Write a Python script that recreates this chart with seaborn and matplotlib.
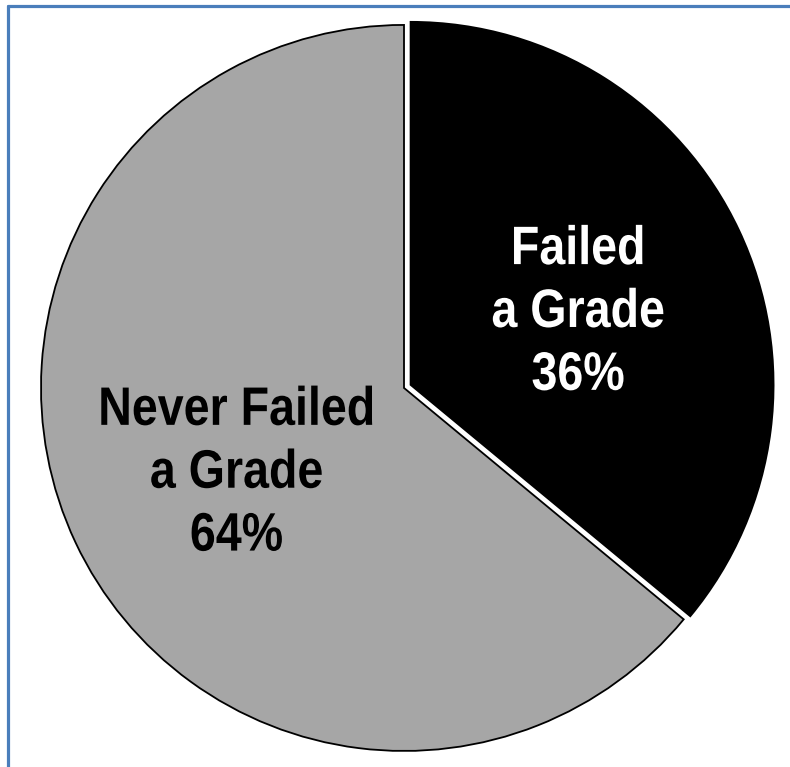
import matplotlib
matplotlib.use("Agg")
import matplotlib.pyplot as plt
import seaborn as sns
from matplotlib.lines import Line2D
from matplotlib.patheffects import AbstractPathEffect
from matplotlib.transforms import Affine2D, ScaledTranslation

categories = ["Failed\na Grade", "Never Failed\na Grade"]
values = [36, 64]
percent_labels = ["36%", "64%"]
colors = ["#000000", "#a6a6a6"]
label_colors = ["white", "black"]

sns.set_theme(style="white")
plt.rcParams['font.family'] = ['Liberation Sans', 'DejaVu Sans']


class Condense(AbstractPathEffect):
    """Narrow the glyphs horizontally around the text's anchor x."""
    def __init__(self, text, sx=0.85):
        super().__init__()
        self.text = text
        self.sx = sx

    def draw_path(self, renderer, gc, tpath, affine, rgbFace=None):
        cx = self.text.get_transform().transform(self.text.get_position())[0]
        aff = affine + Affine2D().translate(-cx, 0).scale(self.sx, 1).translate(cx, 0)
        renderer.draw_path(gc, tpath, aff, rgbFace)


fig = plt.figure(figsize=(7.9, 7.67), dpi=100)
fig.patch.set_facecolor("white")
ax = fig.add_axes([0.0519, 0.0209, 0.919, 0.9466])

labels = [f"{c}\n{p}" for c, p in zip(categories, percent_labels)]
wedges, texts = ax.pie(values, labels=labels, colors=colors, startangle=90,
                       counterclock=False, explode=[0.02, 0],
                       labeldistance=0.51, frame=False,
                       wedgeprops=dict(edgecolor="black", linewidth=1.3),
                       textprops=dict(fontsize=39, fontweight="bold"))
for t, c in zip(texts, label_colors):
    t.set_ha("center")
    t.set_va("center")
    t.set_color(c)
    t.set_linespacing(1.33)
    t.set_transform(ax.transData + ScaledTranslation(0, -5 / 72, fig.dpi_scale_trans))
    t.set_path_effects([Condense(t, 0.86)])
ax.set_xlim(-1, 1)
ax.set_ylim(-1, 1)
ax.set_aspect("equal")
ax.axis("off")

blue = "#4a7ebb"
fig.add_artist(Line2D([8/790, 1], [1-6/767, 1-6/767], color=blue, lw=2.3, transform=fig.transFigure))
fig.add_artist(Line2D([8/790, 8/790], [0, 1-6/767], color=blue, lw=2.3, transform=fig.transFigure))

fig.savefig("out.png", dpi=100, facecolor="white")
